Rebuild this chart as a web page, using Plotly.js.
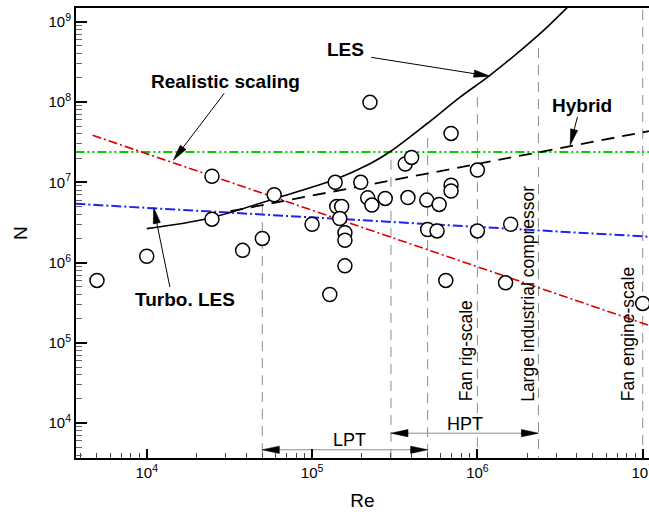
<!DOCTYPE html>
<html><head><meta charset="utf-8">
<script src="https://cdn.plot.ly/plotly-3.0.1.min.js"></script>
<style>html,body{margin:0;padding:0;background:#fff}#chart{width:649px;height:520px}</style>
</head><body><div id="chart"></div>
<script>
// ---------------- data ----------------
const pointsRe = [5e3, 1e4, 2.48e4, 2.48e4, 3.8e4, 5e4, 5.9e4, 1e5, 1.28e5, 1.38e5, 1.41e5, 1.51e5, 1.47e5,
  1.58e5, 1.58e5, 1.58e5, 1.97e5, 2.17e5, 2.3e5, 2.24e5, 2.77e5, 3.66e5, 4.0e5, 3.8e5, 4.94e5, 5.87e5,
  6.93e5, 6.93e5, 6.93e5, 5.0e5, 5.7e5, 1e6, 1e6, 1.59e6, 6.44e5, 1.48e6, 1e7];
const pointsN = [6.0e5, 1.2e6, 1.19e7, 3.47e6, 1.42e6, 2.0e6, 7.0e6, 3.0e6, 4.0e5, 1.0e7, 5.0e6, 5.0e6, 3.54e6,
  2.35e6, 1.9e6, 9.1e5, 1.0e7, 6.4e6, 5.2e6, 9.9e7, 6.3e6, 1.69e7, 2.04e7, 6.45e6, 6.0e6, 5.3e6,
  4.06e7, 9.2e6, 7.8e6, 2.58e6, 2.48e6, 1.42e7, 2.48e6, 3.0e6, 6.0e5, 5.6e5, 3.1e5];

const lesRe = [1e4, 2.42e4, 5.97e4, 1.4e5, 2.24e5, 2.96e5, 4.97e5, 7.86e5, 1.19e6, 2.3e6, 3.49e6];
const lesN  = [2.65e6, 3.6e6, 6.3e6, 1.1e7, 1.7e7, 2.4e7, 5.4e7, 1.15e8, 2.15e8, 6.6e8, 1.5e9];

const hybridRe = [3.2e4, 1.09e7];
const hybridN  = [4.36e6, 4.34e7];

const turboRe = [3.7e3, 1.09e7];
const turboN  = [5.4e6, 2.1e6];

const realisticRe = [4.7e3, 1.09e7];
const realisticN  = [3.86e7, 1.65e5];

const greenRe = [3.7e3, 1.09e7];
const greenN  = [2.39e7, 2.39e7];

const boundaryRe   = [5e4, 3e5, 5e5, 1e6, 2.34e6, 1e7];
const boundaryTopN = [5.2e6, 1.9e7, 3.55e7, 1.15e8, 4.7e8, 1.4e9];

const rangeLabels = ['LPT', 'HPT'];
const rangeFromRe = [5e4, 3e5];
const rangeToRe   = [5e5, 2.34e6];
const rangeN      = [4660, 7500];

const scaleLabels = ['Fan rig-scale', 'Large industrial compressor', 'Fan engine-scale'];
const scaleRe     = [1e6, 2.34e6, 1e7];

const curveLabels = ['LES', 'Realistic scaling', 'Hybrid', 'Turbo. LES'];

const xTickExp = [4, 5, 6, 7];
const yTickExp = [4, 5, 6, 7, 8, 9];

// ---------------- layout geometry ----------------
const W = 649, H = 520;
const M = {l: 76, r: 0, t: 8, b: 62};
const xr = [3.572, 7.038], yr = [3.566, 9.171];
const xs = (W - M.l - M.r) / (xr[1] - xr[0]);
const ys = (H - M.t - M.b) / (yr[1] - yr[0]);
const L10 = Math.log10;
function toPx(re, n) { return [(L10(re) - xr[0]) * xs, (yr[1] - L10(n)) * ys]; }
function fromPx(px, py) { return [Math.pow(10, px / xs + xr[0]), Math.pow(10, yr[1] - py / ys)]; }

const FONT = 'Liberation Sans, Arial, Helvetica, sans-serif';

function arrowTraces(tail, tip, lineColor, headColor, headLen, headHalf, both) {
  const t = toPx(tail[0], tail[1]), p = toPx(tip[0], tip[1]);
  const dx = p[0] - t[0], dy = p[1] - t[1], len = Math.hypot(dx, dy);
  const ux = dx / len, uy = dy / len;
  const out = [];
  const s = both ? fromPx(t[0] + ux * headLen * 0.8, t[1] + uy * headLen * 0.8) : tail;
  const e = fromPx(p[0] - ux * headLen * 0.8, p[1] - uy * headLen * 0.8);
  out.push({type: 'scatter', mode: 'lines', x: [s[0], e[0]], y: [s[1], e[1]],
    line: {color: lineColor, width: 1}, hoverinfo: 'skip', showlegend: false});
  const head = (px, py, sx, sy) => {
    const bx = px - sx * headLen, by = py - sy * headLen;
    const pts = [[px, py], [bx - sy * headHalf, by + sx * headHalf], [bx + sy * headHalf, by - sx * headHalf], [px, py]]
      .map(q => fromPx(q[0], q[1]));
    return {type: 'scatter', mode: 'lines', x: pts.map(q => q[0]), y: pts.map(q => q[1]), fill: 'toself',
      fillcolor: headColor, line: {color: headColor, width: 0.6}, hoverinfo: 'skip', showlegend: false};
  };
  out.push(head(p[0], p[1], ux, uy));
  if (both) out.push(head(t[0], t[1], -ux, -uy));
  return out;
}

const traces = [];
const yBottom = Math.pow(10, yr[0]);
boundaryRe.forEach((re, i) => {
  traces.push({type: 'scatter', mode: 'lines', x: [re, re], y: [boundaryTopN[i], yBottom],
    line: {color: '#8c8c8c', width: 1, dash: '10px,7px'}, hoverinfo: 'skip', showlegend: false});
});
traces.push({type: 'scatter', mode: 'lines', x: greenRe, y: greenN,
  line: {color: '#00cc00', width: 2, dash: '9px,3px,2px,3px,2px,3px'}, showlegend: false});
traces.push({type: 'scatter', mode: 'lines', x: turboRe, y: turboN,
  line: {color: '#2222ee', width: 2, dash: '10px,3px,2px,3px'}, showlegend: false});
traces.push({type: 'scatter', mode: 'lines', x: realisticRe, y: realisticN,
  line: {color: '#dd0000', width: 1.6, dash: '9px,3px,2px,3px'}, showlegend: false});
traces.push({type: 'scatter', mode: 'lines', x: hybridRe, y: hybridN,
  line: {color: '#000', width: 1.8, dash: '13px,8px'}, showlegend: false});
traces.push({type: 'scatter', mode: 'lines', x: lesRe, y: lesN,
  line: {color: '#000', width: 1.6, shape: 'spline', smoothing: 1}, showlegend: false});

// range arrows (LPT / HPT)
rangeLabels.forEach((lab, i) => {
  arrowTraces([rangeFromRe[i], rangeN[i]], [rangeToRe[i], rangeN[i]], '#8c8c8c', '#000', 17, 3.6, true)
    .forEach(t => traces.push(t));
});

// callout arrows
const callouts = [
  {tail: [2.28e5, 3.6e8], tip: [1.19e6, 2.1e8]},
  {tail: [2.94e4, 1.28e8], tip: [1.45e4, 1.89e7]},
  {tail: [4.03e6, 6.53e7], tip: [3.64e6, 2.9e7]},
  {tail: [1.38e4, 4.97e5], tip: [1.1e4, 4.85e6]}
];
callouts.forEach(c => arrowTraces(c.tail, c.tip, '#000', '#000', 16, 3.6, false).forEach(t => traces.push(t)));

traces.push({type: 'scatter', mode: 'markers', x: pointsRe, y: pointsN,
  marker: {symbol: 'circle', size: 14, color: '#fff', line: {color: '#000', width: 1.5}}, showlegend: false});

const annotations = [];
const curvePos = [[5.2, 8.66], [4.474, 8.252], [6.632, 7.961], [4.232, 5.539]];
curveLabels.forEach((lab, i) => annotations.push({xref: 'x', yref: 'y', x: curvePos[i][0], y: curvePos[i][1],
  text: '<b>' + lab + '</b>', showarrow: false, font: {family: FONT, size: 19, color: '#000'}}));
const rangeTextY = [3.793, 3.993];
rangeLabels.forEach((lab, i) => annotations.push({xref: 'x', yref: 'y',
  x: (L10(rangeFromRe[i]) + L10(rangeToRe[i])) / 2 + (i === 0 ? 0.03 : 0.0), y: rangeTextY[i],
  text: lab, showarrow: false, font: {family: FONT, size: 18, color: '#000'}}));
const scaleShift = [-11, -10, -14];
scaleLabels.forEach((lab, i) => annotations.push({xref: 'x', yref: 'y', x: L10(scaleRe[i]), y: 4.246,
  xshift: scaleShift[i], yanchor: 'bottom', textangle: -90, text: lab, showarrow: false,
  font: {family: FONT, size: 17.5, color: '#000'}}));

// minor tick positions: 2..9 within every decade
function minorVals(lo, hi) {
  const v = [];
  for (let e = lo; e <= hi; e++) for (let k = 2; k <= 9; k++) v.push(k * Math.pow(10, e));
  return v;
}

const axisCommon = {
  type: 'log', tickmode: 'array', showgrid: false, zeroline: false,
  showline: true, linecolor: '#000', linewidth: 2, ticks: 'inside', tickcolor: '#000', tickwidth: 2,
  tickfont: {family: FONT, size: 15, color: '#000'}, ticklabeloverflow: 'allow'
};
const layout = {
  width: W, height: H, margin: M, paper_bgcolor: '#fff', plot_bgcolor: '#fff', showlegend: false,
  xaxis: Object.assign({}, axisCommon, {range: xr, ticklen: 9, mirror: true,
    tickvals: xTickExp.map(e => Math.pow(10, e)), ticktext: xTickExp.map(e => '10<sup>' + e + '</sup>'),
    minor: {ticks: 'inside', tickmode: 'array', tickvals: minorVals(3, 7), ticklen: 5, tickwidth: 1, tickcolor: '#444', showgrid: false},
    title: {text: 'Re', font: {family: FONT, size: 19, color: '#000'}, standoff: 14}}),
  yaxis: Object.assign({}, axisCommon, {range: yr, ticklen: 11,
    tickvals: yTickExp.map(e => Math.pow(10, e)), ticktext: yTickExp.map(e => '10<sup>' + e + '</sup>'),
    minor: {ticks: 'inside', tickmode: 'array', tickvals: minorVals(3, 9), ticklen: 6, tickwidth: 1, tickcolor: '#666', showgrid: false},
    title: {text: 'N', font: {family: FONT, size: 19, color: '#000'}, standoff: 16}}),
  annotations: annotations
};
Plotly.newPlot('chart', traces, layout, {displayModeBar: false, staticPlot: true});
</script></body></html>
